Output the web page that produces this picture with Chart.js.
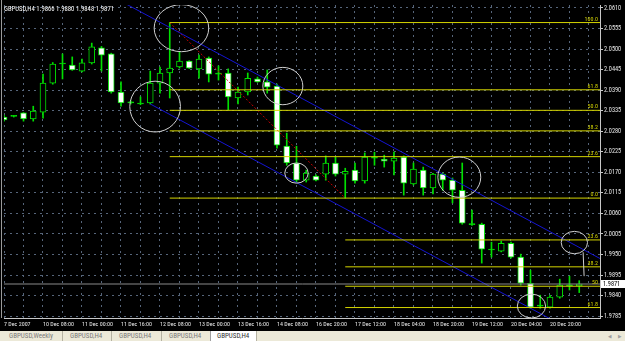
<!DOCTYPE html>
<html>
<head>
<meta charset="utf-8">
<script src="https://cdn.jsdelivr.net/npm/chart.js@4.4.0/dist/chart.umd.min.js"></script>
<style>
  html, body { margin: 0; padding: 0; background: #000; }
  #wrap { position: relative; width: 625px; height: 341px; overflow: hidden; }
  #chartBox { position: absolute; left: 0; top: 0; width: 625px; height: 331px; background: #000; }
  #tabs { position: absolute; left: 0; top: 331px; width: 625px; height: 10px; background: #ece9d8;
          font: 7px "Roboto Condensed", "DejaVu Sans Condensed", sans-serif; color: #7a7a7a; }
  .tab { position: absolute; top: 0; height: 10px; line-height: 10px; box-sizing: border-box;
         border-right: 1px solid #b5b2a2; white-space: nowrap; }
  .tab.active { background: #fff; color: #333; border-left: 1px solid #a0a0a0; }
  .arrow { position: absolute; top: 0; line-height: 10px; font-size: 5px; color: #a0a0a0; }
</style>
</head>
<body>
<div id="wrap">
  <div id="chartBox"><canvas id="myChart"></canvas></div>
  <div id="tabs">
    <div class="tab" style="left:0;width:63px;padding-left:9px">GBPUSD,Weekly</div>
    <div class="tab" style="left:63px;width:49px;padding-left:7px">GBPUSD,H4</div>
    <div class="tab" style="left:112px;width:50px;padding-left:7px">GBPUSD,H4</div>
    <div class="tab" style="left:162px;width:49px;padding-left:7px">GBPUSD,H4</div>
    <div class="tab active" style="left:210px;width:47px;padding-left:6px">GBPUSD,H4</div>
    <span class="arrow" style="left:608px">&#9664;</span>
    <span class="arrow" style="left:618px">&#9654;</span>
  </div>
</div>
<script>
// GBPUSD H4 candles, one per bar, left to right
const symbol = 'GBPUSD,H4';
const opens = [2.0318, 2.0320, 2.0329, 2.0313, 2.0331, 2.0409, 2.0460, 2.0457, 2.0441, 2.0463,
               2.0503, 2.0487, 2.0385, 2.0356, 2.0353, 2.0356, 2.0409, 2.0436, 2.0452, 2.0468,
               2.0447, 2.0476, 2.0433, 2.0436, 2.0369, 2.0385, 2.0420, 2.0412, 2.0401, 2.0240,
               2.0195, 2.0149, 2.0160, 2.0165, 2.0195, 2.0165, 2.0176, 2.0147, 2.0208, 2.0205,
               2.0200, 2.0211, 2.0139, 2.0176, 2.0128, 2.0165, 2.0149, 2.0122, 2.0030, 2.0031,
               1.9962, 1.9959, 1.9980, 1.9943, 1.9873, 1.9812, 1.9809, 1.9836, 1.9866, 1.9866];
const highs = [2.0323, 2.0322, 2.0330, 2.0347, 2.0433, 2.0464, 2.0487, 2.0479, 2.0473, 2.0516,
               2.0507, 2.0489, 2.0412, 2.0361, 2.0372, 2.0441, 2.0452, 2.0571, 2.0492, 2.0469,
               2.0484, 2.0479, 2.0455, 2.0447, 2.0398, 2.0436, 2.0425, 2.0444, 2.0406, 2.0275,
               2.0240, 2.0176, 2.0163, 2.0214, 2.0211, 2.0181, 2.0195, 2.0222, 2.0224, 2.0216,
               2.0224, 2.0214, 2.0195, 2.0184, 2.0167, 2.0168, 2.0155, 2.0195, 2.0069, 2.0034,
               1.9983, 1.9986, 1.9983, 1.9951, 1.9908, 1.9841, 1.9841, 1.9884, 1.9892, 1.9880];
const lows = [2.0307, 2.0318, 2.0307, 2.0307, 2.0315, 2.0406, 2.0420, 2.0443, 2.0439, 2.0460,
              2.0441, 2.0382, 2.0347, 2.0353, 2.0351, 2.0353, 2.0382, 2.0369, 2.0449, 2.0448,
              2.0422, 2.0412, 2.0417, 2.0337, 2.0353, 2.0377, 2.0411, 2.0382, 2.0235, 2.0189,
              2.0144, 2.0144, 2.0147, 2.0149, 2.0160, 2.0101, 2.0141, 2.0141, 2.0189, 2.0184,
              2.0163, 2.0109, 2.0136, 2.0109, 2.0112, 2.0122, 2.0088, 2.0031, 2.0028, 1.9927,
              1.9943, 1.9957, 1.9940, 1.9868, 1.9806, 1.9806, 1.9806, 1.9833, 1.9855, 1.9848];
const closes = [2.0310, 2.0320, 2.0313, 2.0334, 2.0409, 2.0460, 2.0460, 2.0444, 2.0463, 2.0506,
                2.0484, 2.0385, 2.0356, 2.0356, 2.0353, 2.0409, 2.0436, 2.0449, 2.0468, 2.0449,
                2.0473, 2.0433, 2.0433, 2.0372, 2.0385, 2.0422, 2.0412, 2.0398, 2.0243, 2.0195,
                2.0149, 2.0168, 2.0149, 2.0195, 2.0165, 2.0173, 2.0147, 2.0211, 2.0208, 2.0200,
                2.0208, 2.0141, 2.0179, 2.0128, 2.0165, 2.0149, 2.0122, 2.0034, 2.0030, 1.9964,
                1.9962, 1.9980, 1.9943, 1.9873, 1.9809, 1.9812, 1.9836, 1.9868, 1.9866, 1.9871];

// axis labels (time label every 4th bar)
const timeLabels = ['7 Dec 2007', '10 Dec 08:00', '11 Dec 00:00', '11 Dec 16:00', '12 Dec 08:00',
                    '13 Dec 00:00', '13 Dec 16:00', '14 Dec 08:00', '16 Dec 20:00', '17 Dec 12:00',
                    '18 Dec 04:00', '18 Dec 20:00', '19 Dec 12:00', '20 Dec 04:00', '20 Dec 20:00'];
const priceTicks = [2.0610, 2.0555, 2.0500, 2.0445, 2.0390, 2.0335, 2.0280, 2.0225,
                    2.0170, 2.0115, 2.0060, 2.0005, 1.9950, 1.9895, 1.9840, 1.9785];

// fibonacci levels
const fibLevels = ['100.0', '61.8', '50.0', '38.2', '23.6', '0.0'];
const fibPrices = [2.0571, 2.0391, 2.0336, 2.0281, 2.0212, 2.0101];
const fib2Levels = ['23.6', '38.2', '50', '61.8'];
const fib2Prices = [1.9989, 1.9917, 1.9865, 1.9808];

// trend objects: [bar index, price]
const channelUpper = [[12, 2.0628], [62, 1.9927]];
const channelLower = [[15, 2.0353], [62, 1.9694]];
const fibTrend = [[17, 2.0571], [35, 2.0101]];

const GREEN = '#00e000';
const YELLOW = '#d4d400';
const FONT = '"Roboto Condensed", "DejaVu Sans Condensed", sans-serif';
const X_MAX = 61.13;
const FIB_START = 17, FIB2_START = 35;
const last = closes.length - 1;

// hand drawn rings: centre bar/price, radius in bars/price
const rings = [
  { x: 18.2, y: 2.0556, rx: 2.8, ry: 0.0063 },
  { x: 15.5, y: 2.0346, rx: 2.6, ry: 0.0068 },
  { x: 28.6, y: 2.0401, rx: 2.05, ry: 0.0050 },
  { x: 30.0, y: 2.0168, rx: 1.2, ry: 0.0027 },
  { x: 46.7, y: 2.0157, rx: 2.2, ry: 0.0054 },
  { x: 54.1, y: 1.9812, rx: 1.45, ry: 0.0032 },
  { x: 58.5, y: 1.9982, rx: 1.35, ry: 0.0030 }
];

const idx = opens.map((_, i) => i);
const wickData = idx.map(i => ({ x: i, y: [lows[i], highs[i]] }));
const bodyData = idx.map(i => ({ x: i, y: [opens[i], closes[i]] }));
const bodyColors = idx.map(i => closes[i] > opens[i] ? '#000000' : (closes[i] < opens[i] ? '#ffffff' : GREEN));

function lineSet(points, color, extra) {
  return Object.assign({
    type: 'line',
    data: points.map(p => ({ x: p[0], y: p[1] })),
    borderColor: color,
    borderWidth: 1,
    pointRadius: 0,
    fill: false,
    tension: 0,
    order: 1
  }, extra || {});
}

const lineSets = [];
fibPrices.forEach(p => lineSets.push(lineSet([[FIB_START, p], [X_MAX + 1, p]], YELLOW)));
fib2Prices.forEach(p => lineSets.push(lineSet([[FIB2_START, p], [X_MAX + 1, p]], YELLOW)));
lineSets.push(lineSet([[0, closes[last]], [X_MAX + 1, closes[last]]], '#8a8a8a'));
lineSets.push(lineSet(channelUpper, '#1414d2'));
lineSets.push(lineSet(channelLower, '#1414d2'));
lineSets.push(lineSet(fibTrend, '#d00000', { borderDash: [2, 2] }));

const overlay = {
  id: 'overlay',
  afterDatasetsDraw(chart) {
    const ctx = chart.ctx, xs = chart.scales.x, ys = chart.scales.y, a = chart.chartArea;
    ctx.save();
    ctx.beginPath();
    ctx.rect(a.left, a.top, a.right - a.left, a.bottom - a.top);
    ctx.clip();
    // rings
    ctx.strokeStyle = '#cfcfcf';
    ctx.lineWidth = 1;
    rings.forEach(r => {
      const cx = xs.getPixelForValue(r.x), cy = ys.getPixelForValue(r.y);
      const rx = xs.getPixelForValue(r.x + r.rx) - cx;
      const ry = cy - ys.getPixelForValue(r.y + r.ry);
      ctx.beginPath();
      ctx.ellipse(cx, cy, rx, ry, 0, 0, Math.PI * 2);
      ctx.stroke();
    });
    // tail from last ring
    ctx.beginPath();
    ctx.moveTo(xs.getPixelForValue(59.4), ys.getPixelForValue(1.9956));
    ctx.lineTo(xs.getPixelForValue(59.5), ys.getPixelForValue(1.9892));
    ctx.stroke();
    // fib labels
    ctx.fillStyle = YELLOW;
    ctx.font = '6px ' + FONT;
    ctx.textAlign = 'right';
    ctx.textBaseline = 'bottom';
    fibPrices.forEach((p, k) => ctx.fillText(fibLevels[k], a.right - 2, ys.getPixelForValue(p) - 0.5));
    fib2Prices.forEach((p, k) => ctx.fillText(fib2Levels[k], a.right - 2, ys.getPixelForValue(p) - 0.5));
    ctx.restore();
  },
  afterDraw(chart) {
    const ctx = chart.ctx, ys = chart.scales.y, a = chart.chartArea;
    ctx.save();
    // header
    ctx.fillStyle = '#ffffff';
    ctx.font = '6.7px ' + FONT;
    ctx.textBaseline = 'middle';
    ctx.textAlign = 'left';
    const head = [opens[last], highs[last], lows[last], closes[last]].map(v => v.toFixed(4)).join(' ');
    ctx.fillText(symbol + ' ' + head, 4, 9.5);
    // bid price box
    const py = ys.getPixelForValue(closes[last]);
    ctx.fillStyle = '#ffffff';
    ctx.fillRect(a.right + 1, py - 4, 24, 8);
    ctx.fillStyle = '#000000';
    ctx.font = '6.3px ' + FONT;
    ctx.fillText(closes[last].toFixed(4), a.right + 3, py + 0.5);
    // left frame
    ctx.strokeStyle = '#9a9a9a';
    ctx.beginPath();
    ctx.moveTo(1.5, 0);
    ctx.lineTo(1.5, a.bottom);
    ctx.stroke();
    ctx.restore();
  }
};

const ctx = document.getElementById('myChart').getContext('2d');
const myChart = new Chart(ctx, {
  type: 'bar',
  data: {
    datasets: [
      { type: 'bar', data: wickData, backgroundColor: GREEN, barThickness: 1, grouped: false,
        minBarLength: 1, order: 5 },
      { type: 'bar', data: bodyData, backgroundColor: bodyColors, borderColor: GREEN, borderWidth: 1,
        borderSkipped: false, barThickness: 6, grouped: false, minBarLength: 1, order: 4 }
    ].concat(lineSets)
  },
  plugins: [overlay],
  options: {
    responsive: true,
    maintainAspectRatio: false,
    animation: false,
    events: [],
    layout: { padding: { left: 4, top: 5, right: 0, bottom: 0 } },
    plugins: { legend: { display: false }, tooltip: { enabled: false } },
    scales: {
      x: {
        type: 'linear',
        min: 0,
        max: X_MAX,
        offset: false,
        grid: { offset: false, color: '#56657a', drawTicks: false },
        border: { color: '#c8c8c8', dash: [2, 4] },
        afterBuildTicks: s => {
          s.ticks = [];
          for (let i = 0; i <= 60; i += 2) s.ticks.push({ value: i });
        },
        afterFit: s => { s.height = 13; },
        ticks: {
          autoSkip: false,
          maxRotation: 0,
          align: 'start',
          padding: 3,
          color: '#e8e8e8',
          font: { family: FONT, size: 6 },
          callback: v => (v % 4 === 0 ? (timeLabels[v / 4] || '') : '')
        }
      },
      y: {
        type: 'linear',
        position: 'right',
        min: 1.9780,
        max: 2.0618,
        beginAtZero: false,
        grid: { color: '#56657a', tickColor: '#c8c8c8', tickLength: 3, tickBorderDash: [] },
        border: { color: '#c8c8c8', dash: [2, 4] },
        afterBuildTicks: s => { s.ticks = priceTicks.map(v => ({ value: v })); },
        afterFit: s => { s.width = 25; },
        ticks: {
          padding: 1,
          color: '#e8e8e8',
          font: { family: FONT, size: 6.3 },
          callback: v => Number(v).toFixed(4)
        }
      }
    }
  }
});
</script>
</body>
</html>
